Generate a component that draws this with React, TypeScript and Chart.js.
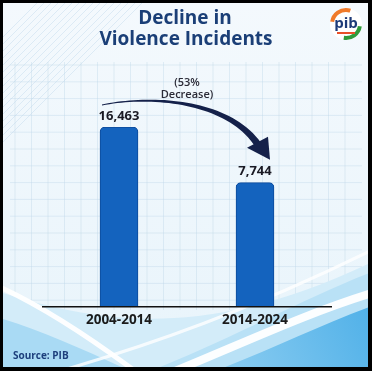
import { useEffect, useRef } from 'react';
import { Chart, registerables } from 'chart.js';

Chart.register(...registerables);

const periods = ['2004-2014', '2014-2024'];
const incidents = [16463, 7744];
const valueLabels = ['16,463', '7,744'];
const titleLines = ['Decline in', 'Violence Incidents'];
const changeNote = ['(53%', 'Decrease)'];
const sourceNote = 'Source: PIB';
// The original graphic does not draw its bars from zero; this is its visual baseline.
const visualBase = -11700;

const W = 372;
const H = 371;
const FONT = '"Open Sans", "DejaVu Sans", sans-serif';

function drawBackground(ctx: CanvasRenderingContext2D) {
  ctx.save();
  ctx.fillStyle = '#000';
  ctx.fillRect(0, 0, W, H);
  ctx.beginPath();
  ctx.rect(3, 3, 365, 364);
  ctx.clip();
  const g = ctx.createLinearGradient(0, 0, 0, H);
  g.addColorStop(0, '#f4f9fd');
  g.addColorStop(1, '#e8f4fb');
  ctx.fillStyle = g;
  ctx.fillRect(0, 0, W, H);

  // diagonal stripes top-left
  ctx.strokeStyle = 'rgba(200,222,238,0.55)';
  ctx.lineWidth = 1;
  for (let i = 0; i < 16; i++) {
    const o = i * 7;
    ctx.beginPath();
    ctx.moveTo(0, 40 + o);
    ctx.lineTo(40 + o, 0);
    ctx.stroke();
  }

  // graph-paper grid
  ctx.strokeStyle = 'rgba(190,214,232,0.4)';
  for (let x = 15; x < 360; x += 16.5) {
    ctx.beginPath();
    ctx.moveTo(x, 62);
    ctx.lineTo(x, 310);
    ctx.stroke();
  }
  for (let y = 65; y < 310; y += 16.8) {
    ctx.beginPath();
    ctx.moveTo(10, y);
    ctx.lineTo(362, y);
    ctx.stroke();
  }

  // waves
  ctx.fillStyle = '#d3ecf9';
  ctx.beginPath();
  ctx.moveTo(0, 292);
  ctx.bezierCurveTo(90, 320, 200, 345, 372, 262);
  ctx.lineTo(372, 371);
  ctx.lineTo(0, 371);
  ctx.closePath();
  ctx.fill();

  ctx.fillStyle = '#a9daf4';
  ctx.beginPath();
  ctx.moveTo(0, 318);
  ctx.bezierCurveTo(40, 330, 90, 352, 130, 371);
  ctx.lineTo(0, 371);
  ctx.closePath();
  ctx.fill();

  ctx.fillStyle = '#b9e1f6';
  ctx.beginPath();
  ctx.moveTo(150, 371);
  ctx.bezierCurveTo(230, 340, 300, 300, 372, 272);
  ctx.lineTo(372, 371);
  ctx.closePath();
  ctx.fill();

  const bg2 = ctx.createLinearGradient(220, 371, 372, 300);
  bg2.addColorStop(0, '#8ccdf1');
  bg2.addColorStop(1, '#4fb0e8');
  ctx.fillStyle = bg2;
  ctx.beginPath();
  ctx.moveTo(215, 371);
  ctx.bezierCurveTo(270, 350, 320, 325, 372, 306);
  ctx.lineTo(372, 371);
  ctx.closePath();
  ctx.fill();

  ctx.strokeStyle = 'rgba(255,255,255,0.95)';
  ctx.lineWidth = 5;
  ctx.beginPath();
  ctx.moveTo(0, 287);
  ctx.bezierCurveTo(50, 310, 100, 345, 135, 371);
  ctx.stroke();

  ctx.lineWidth = 8;
  ctx.beginPath();
  ctx.moveTo(175, 371);
  ctx.bezierCurveTo(250, 340, 310, 312, 372, 293);
  ctx.stroke();
  ctx.lineWidth = 3;
  ctx.strokeStyle = 'rgba(255,255,255,0.8)';
  ctx.beginPath();
  ctx.moveTo(60, 371);
  ctx.bezierCurveTo(150, 345, 250, 310, 372, 250);
  ctx.stroke();
  ctx.restore();
}

function bez(p: number[][], t: number) {
  const u = 1 - t;
  const a = u * u * u, b = 3 * u * u * t, c = 3 * u * t * t, d = t * t * t;
  return [
    a * p[0][0] + b * p[1][0] + c * p[2][0] + d * p[3][0],
    a * p[0][1] + b * p[1][1] + c * p[2][1] + d * p[3][1],
  ];
}

function drawArrow(ctx: CanvasRenderingContext2D, x1: number, y1: number, x2: number, y2: number) {
  const p = [
    [x1 - 17, y1 - 22],
    [x1 + 31, y1 - 32],
    [x2 - 27, y1 - 27],
    [x2 + 3, y2 - 38],
  ];
  const N = 40;
  const up: number[][] = [];
  const dn: number[][] = [];
  for (let i = 0; i <= N; i++) {
    const t = i / N;
    const q = bez(p, t);
    const q2 = bez(p, Math.min(1, t + 0.01));
    const q1 = bez(p, Math.max(0, t - 0.01));
    let dx = q2[0] - q1[0], dy = q2[1] - q1[1];
    const l = Math.hypot(dx, dy) || 1;
    dx /= l; dy /= l;
    const hw = 0.5 + 3.0 * Math.pow(t, 1.4);
    up.push([q[0] + dy * hw, q[1] - dx * hw]);
    dn.push([q[0] - dy * hw, q[1] + dx * hw]);
  }
  ctx.save();
  ctx.fillStyle = '#15214a';
  ctx.beginPath();
  ctx.moveTo(up[0][0], up[0][1]);
  up.forEach((q) => ctx.lineTo(q[0], q[1]));
  for (let i = dn.length - 1; i >= 0; i--) ctx.lineTo(dn[i][0], dn[i][1]);
  ctx.closePath();
  ctx.fill();
  const e = p[3];
  ctx.beginPath();
  ctx.moveTo(e[0] - 11, e[1] + 3);
  ctx.lineTo(e[0] + 10, e[1] - 8);
  ctx.lineTo(x2 + 15, y2 - 23);
  ctx.closePath();
  ctx.fill();
  ctx.restore();
}

function drawLogo(ctx: CanvasRenderingContext2D) {
  const cx = 346, cy = 24, r = 16;
  ctx.save();
  ctx.fillStyle = '#ffffff';
  ctx.beginPath();
  ctx.arc(cx, cy, r, 0, Math.PI * 2);
  ctx.fill();
  ctx.lineWidth = 4;
  ctx.strokeStyle = '#f07a2a';
  ctx.beginPath();
  ctx.arc(cx, cy, r - 2, Math.PI * 1.05, Math.PI * 1.6);
  ctx.stroke();
  ctx.strokeStyle = '#2f9a3a';
  ctx.beginPath();
  ctx.arc(cx, cy, r - 2, Math.PI * 0.05, Math.PI * 0.55);
  ctx.stroke();
  ctx.fillStyle = '#1d3a78';
  ctx.font = `bold 15px ${FONT}`;
  ctx.textAlign = 'center';
  ctx.textBaseline = 'middle';
  ctx.fillText('pib', cx, cy);
  ctx.fillStyle = '#e8502a';
  ctx.fillRect(cx - 9, cy + 8, 18, 2);
  ctx.restore();
}

const decorPlugin = {
  id: 'decor',
  beforeDraw(chart: any) {
    drawBackground(chart.ctx);
  },
  afterDatasetsDraw(chart: any) {
    const ctx: CanvasRenderingContext2D = chart.ctx;
    const meta = chart.getDatasetMeta(0);
    const area = chart.chartArea;
    ctx.save();
    ctx.strokeStyle = '#111';
    ctx.lineWidth = 1.6;
    ctx.beginPath();
    ctx.moveTo(area.left - 9, area.bottom);
    ctx.lineTo(area.right + 9, area.bottom);
    ctx.stroke();

    ctx.fillStyle = '#1a1a24';
    ctx.font = `bold 13px ${FONT}`;
    ctx.textAlign = 'center';
    ctx.textBaseline = 'middle';
    meta.data.forEach((bar: any, i: number) => {
      ctx.fillText(valueLabels[i], bar.x, bar.y - 11);
    });
    const b1 = meta.data[0], b2 = meta.data[1];
    drawArrow(ctx, b1.x, b1.y, b2.x, b2.y);

    ctx.fillStyle = '#2a2a36';
    ctx.font = `600 11px ${FONT}`;
    const mx = (b1.x + b2.x) / 2;
    ctx.fillText(changeNote[0], mx, 83);
    ctx.fillText(changeNote[1], mx, 95);

    ctx.fillStyle = '#1b3f77';
    ctx.font = `bold 19px ${FONT}`;
    ctx.fillText(titleLines[0], 185, 19);
    ctx.fillText(titleLines[1], 186, 40);

    ctx.textAlign = 'left';
    ctx.fillStyle = '#1d3f7c';
    ctx.font = `bold 10px ${FONT}`;
    ctx.fillText(sourceNote, 13, 356);
    ctx.restore();
    drawLogo(ctx);
  },
};

export default function App() {
  const ref = useRef<HTMLCanvasElement>(null);
  useEffect(() => {
    document.body.style.margin = '0';
    const chart = new Chart(ref.current as HTMLCanvasElement, {
      type: 'bar',
      data: {
        labels: periods,
        datasets: [
          {
            data: incidents,
            base: visualBase,
            backgroundColor: '#1463be',
            borderColor: '#0d4a9a',
            borderWidth: 1,
            borderSkipped: 'bottom',
            borderRadius: { topLeft: 5, topRight: 5, bottomLeft: 0, bottomRight: 0 },
            barThickness: 38,
          } as any,
        ],
      },
      options: {
        responsive: false,
        animation: false,
        layout: { padding: { left: 51, right: 49, top: 127, bottom: 38 } },
        plugins: { legend: { display: false }, tooltip: { enabled: false }, title: { display: false } },
        scales: {
          x: {
            grid: { display: false, drawTicks: false },
            border: { display: false },
            ticks: { color: '#1b1b1b', padding: 5, font: { family: FONT, weight: 'bold', size: 13.5 } },
          },
          y: { display: false, min: visualBase, max: incidents[0] },
        },
      },
      plugins: [decorPlugin],
    });
    return () => chart.destroy();
  }, []);
  return (
    <div style={{ position: 'fixed', left: 0, top: 0, width: W, height: H }}>
      <canvas ref={ref} width={W} height={H} style={{ width: W, height: H, display: 'block' }} />
    </div>
  );
}
